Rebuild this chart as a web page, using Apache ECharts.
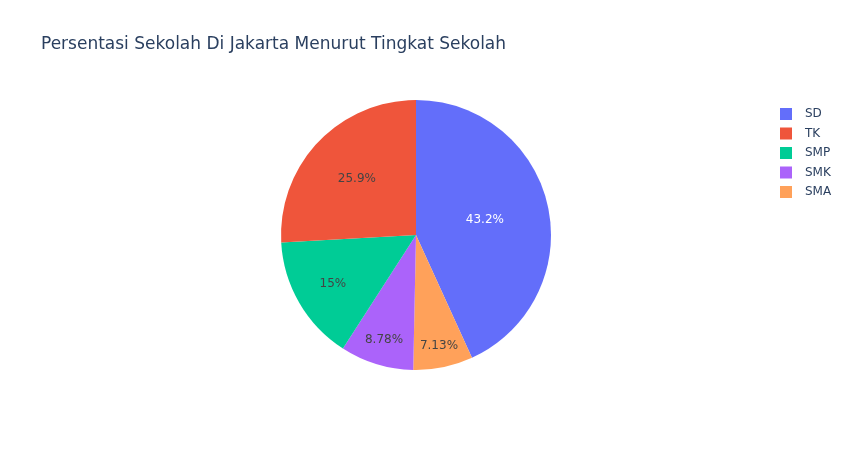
<!DOCTYPE html>
<html>
<head>
<meta charset="utf-8">
<script src="https://cdn.jsdelivr.net/npm/echarts@6/dist/echarts.min.js"></script>
<style>html,body{margin:0;padding:0;background:#fff;}#chart{width:848px;height:450px;}</style>
</head>
<body>
<div id="chart"></div>
<script>
// Data (percent shares), in clockwise order from 12 o'clock
const categories = ['SD', 'SMA', 'SMK', 'SMP', 'TK'];
const values = [43.2, 7.13, 8.78, 15, 25.9];
// Legend order (descending)
const legendOrder = ['SD', 'TK', 'SMP', 'SMK', 'SMA'];

const colorMap = { SD: '#636efa', TK: '#EF553B', SMP: '#00cc96', SMK: '#ab63fa', SMA: '#FFA15A' };
const labelColorMap = { SD: '#ffffff', TK: '#444444', SMP: '#444444', SMK: '#444444', SMA: '#444444' };
// Radial position of each inside label as a fraction of the radius (style)
const labelRadiusFrac = { SD: 0.50, TK: 0.58, SMP: 0.69, SMK: 0.79, SMA: 0.82 };

const FONT = 'DejaVu Sans';
const R = 135;
const total = values.reduce((a, b) => a + b, 0);
const midAngles = [];
let acc = 0;
values.forEach(v => { midAngles.push((acc + v / 2) / total * 2 * Math.PI); acc += v; });

const chart = echarts.init(document.getElementById('chart'), null, { renderer: 'canvas' });
chart.setOption({
  backgroundColor: '#fff',
  animation: false,
  title: {
    text: 'Persentasi Sekolah Di Jakarta Menurut Tingkat Sekolah',
    left: 36, top: 31,
    textStyle: { fontFamily: FONT, fontSize: 17, fontWeight: 'normal', color: '#2a3f5f' }
  },
  legend: {
    data: legendOrder,
    orient: 'vertical',
    left: 775, top: 103,
    icon: 'rect',
    itemWidth: 12, itemHeight: 12, itemGap: 7.5,
    textStyle: { fontFamily: FONT, fontSize: 12, color: '#2a3f5f', padding: [0, 0, 0, 8] }
  },
  series: [{
    type: 'pie',
    center: [416, 235],
    radius: [0, R],
    startAngle: 90,
    clockwise: true,
    avoidLabelOverlap: false,
    emphasis: { disabled: true },
    labelLine: { show: false },
    itemStyle: { borderWidth: 0 },
    label: {
      show: true,
      position: 'inside',
      fontFamily: FONT,
      fontSize: 12,
      formatter: p => p.value + '%'
    },
    labelLayout: function (params) {
      const i = params.dataIndex;
      const f = labelRadiusFrac[categories[i]];
      const a = midAngles[i];
      return { dx: (f - 0.5) * R * Math.sin(a), dy: -(f - 0.5) * R * Math.cos(a) };
    },
    data: categories.map((c, i) => ({
      name: c,
      value: values[i],
      itemStyle: { color: colorMap[c] },
      label: { color: labelColorMap[c] }
    }))
  }]
});
</script>
</body>
</html>
